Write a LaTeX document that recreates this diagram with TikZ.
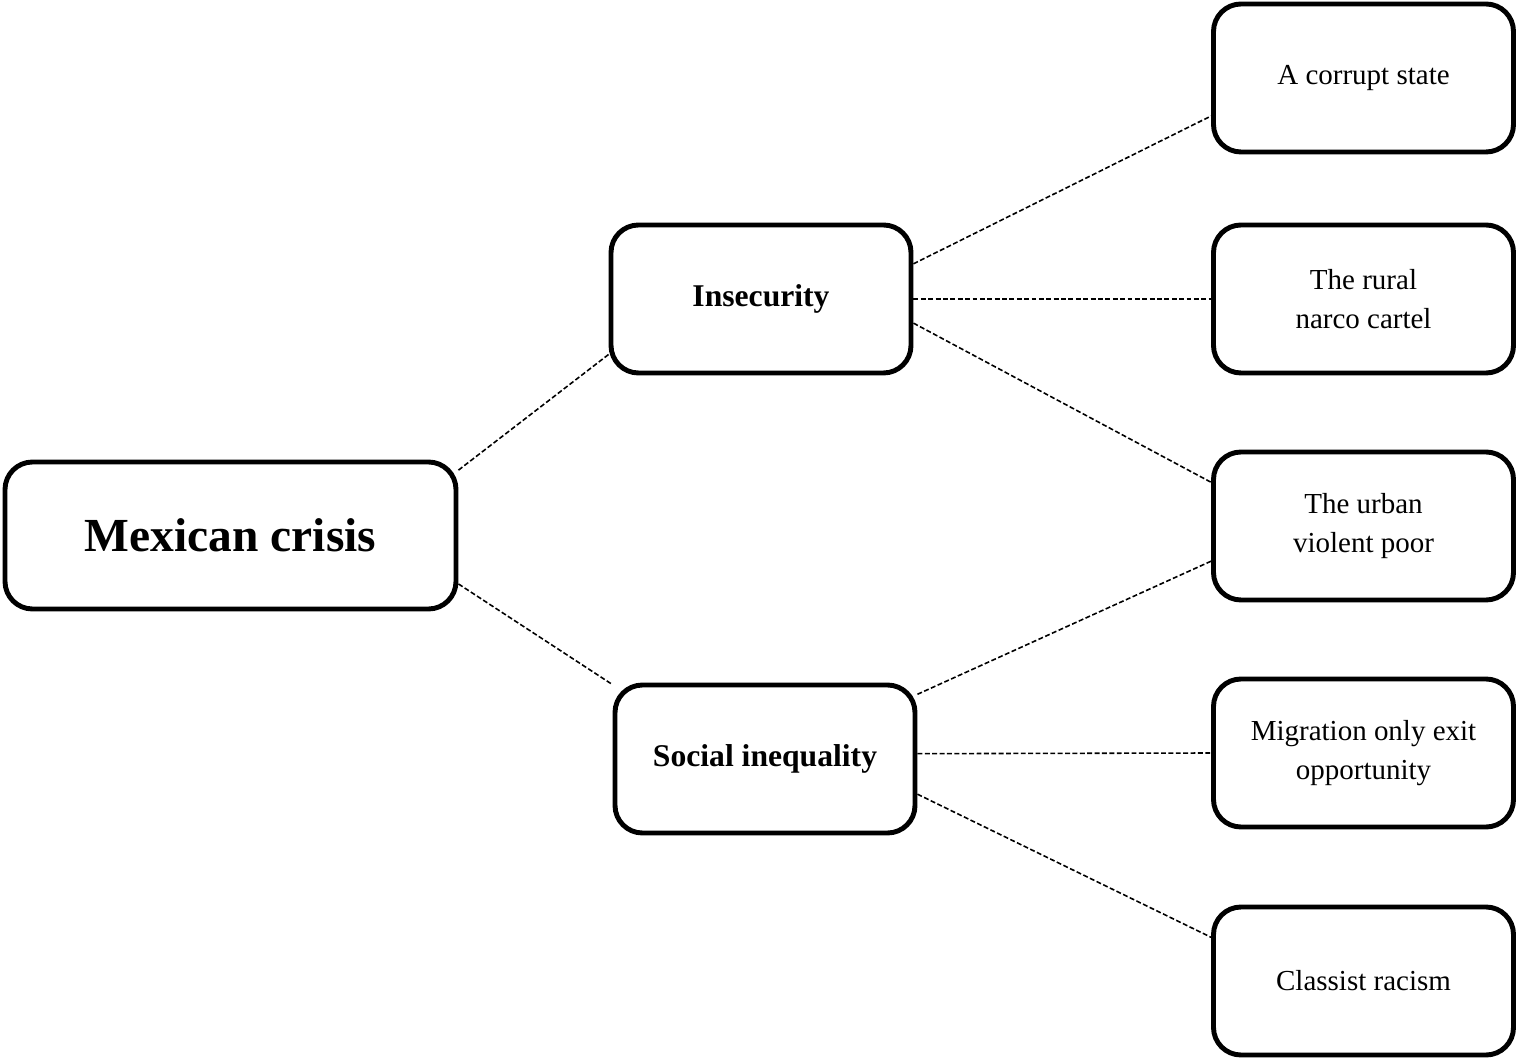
\documentclass[tikz,border=0pt]{standalone}
\usepackage{fontspec}
\setmainfont{Liberation Serif}
\usepackage{tikz}
\usetikzlibrary{positioning}
\usetikzlibrary{calc}

\tikzset{
  box/.style={draw, line width=2.8pt, rounded corners=0.55cm, inner sep=0pt,
    minimum width=6cm, minimum height=2.96cm, align=center,
    font=\fontsize{16.5}{22}\selectfont},
  topbox/.style={box, minimum width=9.02cm, minimum height=2.94cm,
    font=\fontsize{27}{32}\selectfont\bfseries},
  midbox/.style={box, font=\fontsize{18}{22}\selectfont\bfseries},
  link/.style={line width=0.9pt, dash pattern=on 2.8pt off 1.4pt}
}

\begin{document}
\begin{tikzpicture}

\useasboundingbox (0,0) rectangle (30.34,21.18);

\node[topbox] (crisis) at (4.61,10.47) {Mexican crisis};

\node[midbox] (insec) at (15.22,15.2) {Insecurity};
\node[midbox] (social) at (15.3,6.0) {Social inequality};

\node[box] (corrupt) at (27.27,19.62) {A corrupt state};
\node[box] (rural) at (27.27,15.2) {The rural\\narco cartel};
\node[box] (urban) at (27.27,10.66) {The urban\\violent poor};
\node[box] (migr) at (27.27,6.12) {Migration only exit\\opportunity};
\node[box] (racism) at (27.27,1.56) {Classist racism};

% dashed links
\foreach \a/\b in {crisis.16/insec.200, crisis.348/social.154,
                   insec.13/corrupt.194, insec.east/rural.west, insec.351/urban.164,
                   social.23/urban.193, social.2/migr.west, social.347/racism.164}
   \draw[link] (\a) -- (\b);

\end{tikzpicture}
\end{document}
